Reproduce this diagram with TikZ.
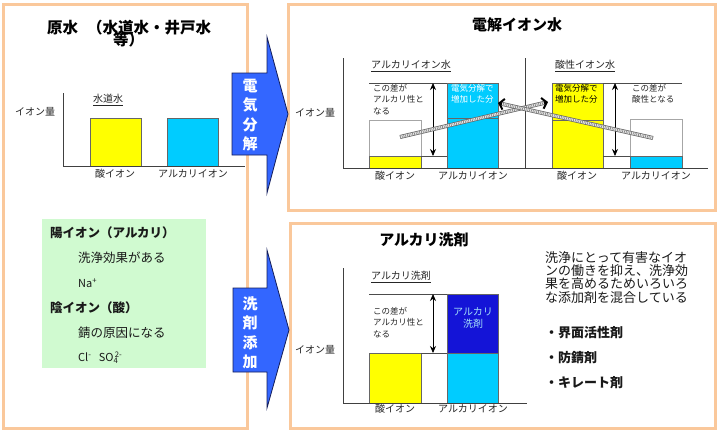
\documentclass[tikz,border=0pt]{standalone}
\usepackage{fontspec}
\setmainfont{Noto Sans CJK JP}
\usetikzlibrary{arrows.meta,calc}
\definecolor{peach}{RGB}{250,200,155}
\definecolor{barY}{RGB}{255,255,0}
\definecolor{barC}{RGB}{0,204,255}
\definecolor{barB}{RGB}{20,20,215}
\definecolor{arrowblue}{RGB}{51,102,255}
\definecolor{arrowedge}{RGB}{20,30,90}
\definecolor{greenbox}{RGB}{208,250,208}
\newcommand\mytightlines{\lineskiplimit=-50pt\relax\lineskip=0pt\relax}
\begin{document}
\begin{tikzpicture}[x=1pt,y=-1pt,
 panel/.style={draw=peach, line width=3pt},
 axisline/.style={draw=black!75, line width=0.7pt},
 bar/.style={draw=black!60, line width=0.6pt},
 thinline/.style={draw=black!70, line width=0.5pt},
 dotbox/.style={draw=black!35, line width=0.5pt},
 lbl/.style={font=\fontsize{10}{12}\selectfont, text=black!85, inner sep=0pt},
 smalltxt/.style={font=\fontsize{8.5}{11.5}\selectfont, text=black!85, inner sep=0pt, align=left, anchor=north west},
 titletxt/.style={font=\bfseries\fontsize{15}{17}\selectfont, inner sep=0pt},
 dblarrow/.style={{Stealth[length=7pt,width=6pt]}-{Stealth[length=7pt,width=6pt]}, line width=0.8pt},
 blockarrow/.style={draw=arrowedge, line width=0.8pt, fill=arrowblue},
 vtext/.style={font=\bfseries\fontsize{15}{19.5}\selectfont, text=white, align=center, inner sep=0pt},
 hatch/.style={line width=4pt, draw=black!60, postaction={draw=white, line width=2.4pt}, postaction={draw=black!45, line width=2.4pt, dash pattern=on 0.9pt off 0.9pt}},
 chevron/.style={line width=2pt, -{Straight Barb[length=4.5pt,width=11pt]}},
 greentxt/.style={font=\fontsize{12.5}{15}\selectfont, inner sep=0pt, anchor=west, text=black!90},
 sidetxt/.style={font=\fontsize{13}{13.4}\selectfont, inner sep=0pt, text=black!90}
]
\useasboundingbox (0,0) rectangle (721,432);
\fill[white] (0,0) rectangle (721,432);

% ---------- panels ----------
\draw[panel] (3,4) rectangle (247,428);
\draw[panel] (288,4) rectangle (715,210);
\draw[panel] (290,223) rectangle (715,428);

% ---------- left panel ----------
\node[inner sep=0pt, anchor=north west, align=left, font={\bfseries\fontsize{15.5}{12}\selectfont\mytightlines}] (t1) at (47,20) {原水\hspace{9pt}（水道水・井戸水\\\hspace{66pt}等）};
\draw[axisline] (63,93) -- (63,166) -- (245,166);
\node[lbl, anchor=west] (yl1) at (15,112) {イオン量};
\node[lbl, anchor=west] (u1) at (93,100) {\underline{水道水}};
\fill[barY] (90,118) rectangle (141,166); \draw[bar] (90,166) -- (90,118) -- (141,118) -- (141,166);
\fill[barC] (167,118) rectangle (218,166); \draw[bar] (167,166) -- (167,118) -- (218,118) -- (218,166);
\node[lbl] (a1) at (115,174) {酸イオン};
\node[lbl] (b1) at (193,174) {アルカリイオン};

% green box
\fill[greenbox] (42,219) rectangle (206,368);
\node[greentxt, font=\bfseries\fontsize{12.5}{15}\selectfont] (g1) at (50,233) {陽イオン（アルカリ）};
\node[greentxt] (g2) at (78,258) {洗浄効果がある};
\node[greentxt, font=\fontsize{11}{13}\selectfont] (g3) at (78,283) {Na\textsuperscript{+}};
\node[greentxt, font=\bfseries\fontsize{12.5}{15}\selectfont] (g4) at (50,308) {陰イオン（酸）};
\node[greentxt] (g5) at (78,333) {錆の原因になる};
\node[greentxt, font=\fontsize{11}{13}\selectfont] (g6) at (78,358) {Cl\textsuperscript{-}\ \ \ SO\textsubscript{4}\kern-3.5pt\textsuperscript{2-}};

% ---------- block arrows ----------
\draw[blockarrow] (232,73) -- (267,73) -- (267,37) -- (288,114) -- (267,193) -- (267,155) -- (232,155) -- cycle;
\node[vtext] (v1) at (250,115) {電\\気\\分\\解};
\draw[blockarrow] (233,288) -- (267,288) -- (267,250) -- (289,330) -- (267,408) -- (267,372) -- (233,372) -- cycle;
\node[vtext] (v2) at (250,333) {洗\\剤\\添\\加};

% ---------- top-right panel ----------
\node[titletxt] (t2) at (517,25) {電解イオン水};
\draw[axisline] (343,58) -- (343,168) -- (708,168);
\draw[axisline] (525,58) -- (525,168);
\node[lbl, anchor=west] (yl2) at (295,113) {イオン量};
\node[lbl, anchor=west] (u2) at (371,66) {\underline{アルカリイオン水}};
\node[lbl, anchor=west] (u3) at (555,66) {\underline{酸性イオン水}};

% left sub-chart (alkaline water)
\draw[thinline] (369,83) -- (447,83);
\fill[white] (369,120) rectangle (421,168);
\draw[dotbox] (369,168) -- (369,120) -- (421,120) -- (421,168);
\fill[barY] (369,156) rectangle (421,168); \draw[bar] (369,168) -- (369,156) -- (421,156) -- (421,168);
\draw[thinline] (421,156) -- (447,156);
\fill[barC] (447,83) rectangle (498,168);
\draw[bar] (447,168) -- (447,83) -- (498,83) -- (498,168);
\draw[bar] (447,118) -- (498,118);
\node[smalltxt] (d1) at (373,84) {この差が\\アルカリ性と\\なる};
\node[smalltxt, text=white] (e1) at (451,84) {電気分解で\\増加した分};
\coordinate (p1t) at (433,83); \coordinate (p1b) at (433,156);
\draw[dblarrow] (p1t) -- (p1b);
\node[lbl] (a2) at (395,176) {酸イオン};
\node[lbl] (b2) at (473,176) {アルカリイオン};

% right sub-chart (acidic water)
\fill[barY] (552,83) rectangle (603,168);
\draw[bar] (552,168) -- (552,83) -- (603,83) -- (603,168);
\draw[bar] (552,120) -- (603,120);
\node[smalltxt, text=black] (e2) at (555,84) {電気分解で\\増加した分};
\draw[thinline] (603,83) -- (682,83);
\fill[white] (630,119) rectangle (682,168);
\draw[dotbox] (630,168) -- (630,119) -- (682,119) -- (682,168);
\fill[barC] (630,156) rectangle (682,168); \draw[bar] (630,168) -- (630,156) -- (682,156) -- (682,168);
\draw[thinline] (603,156) -- (630,156);
\node[smalltxt] (d2) at (632,84) {この差が\\酸性となる};
\coordinate (p2t) at (615,83); \coordinate (p2b) at (615,156);
\draw[dblarrow] (p2t) -- (p2b);
\node[lbl] (a3) at (577,176) {酸イオン};
\node[lbl] (b3) at (656,176) {アルカリイオン};

% crossing hatched arrows
\coordinate (h1s) at (400,137); \coordinate (h1e) at (548,102);
\coordinate (h2s) at (653,138); \coordinate (h2e) at (498,103);
\draw[hatch] (h1s) -- ($(h1e)!3pt!(h1s)$);
\draw[hatch] (h2s) -- ($(h2e)!3pt!(h2s)$);
\draw[chevron] ($(h1e)!4pt!(h1s)$) -- (h1e);
\draw[chevron] ($(h2e)!4pt!(h2s)$) -- (h2e);

% ---------- bottom-right panel ----------
\node[titletxt] (t3) at (424,240) {アルカリ洗剤};
\draw[axisline] (343,268) -- (343,403) -- (527,403);
\node[lbl, anchor=west] (yl3) at (295,350) {イオン量};
\node[lbl, anchor=west] (u4) at (371,277) {\underline{アルカリ洗剤}};
\draw[thinline] (369,294) -- (447,294);
\node[smalltxt] (d3) at (373,307) {この差が\\アルカリ性と\\なる};
\coordinate (p3t) at (433,294); \coordinate (p3b) at (433,353);
\draw[dblarrow] (p3t) -- (p3b);
\fill[barY] (369,353) rectangle (421,403); \draw[bar] (369,403) -- (369,353) -- (421,353) -- (421,403);
\draw[thinline] (421,353) -- (447,353);
\fill[barC] (447,353) rectangle (498,403);
\fill[barB] (447,294) rectangle (498,353);
\draw[bar] (447,403) -- (447,294) -- (498,294) -- (498,403);
\draw[bar] (447,353) -- (498,353);
\node[lbl, text=cyan!35!white, align=center] (e3) at (473,318) {アルカリ\\洗剤};
\node[lbl] (a4) at (395,409) {酸イオン};
\node[lbl] (b4) at (473,409) {アルカリイオン};

\node[sidetxt, anchor=north west, align=left] (s1) at (545,251) {洗浄にとって有害なイオ\\ンの働きを抑え、洗浄効\\果を高めるためいろいろ\\な添加剤を混合している};
\node[sidetxt, anchor=west, font=\bfseries\fontsize{13}{15}\selectfont] (s2) at (545,333) {・界面活性剤};
\node[sidetxt, anchor=west, font=\bfseries\fontsize{13}{15}\selectfont] (s3) at (545,358) {・防錆剤};
\node[sidetxt, anchor=west, font=\bfseries\fontsize{13}{15}\selectfont] (s4) at (545,383) {・キレート剤};
\end{tikzpicture}
\end{document}
